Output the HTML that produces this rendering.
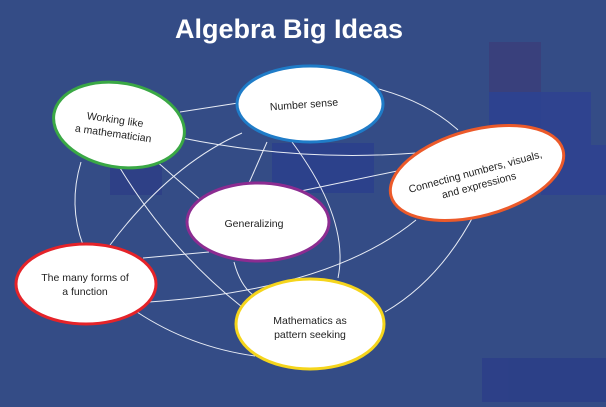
<!DOCTYPE html>
<html><head><style>
body{margin:0;width:606px;height:402px;overflow:hidden;background:#344c86;font-family:"Liberation Sans",sans-serif}
</style></head><body>
<svg width="606" height="402" viewBox="0 0 606 402" xmlns="http://www.w3.org/2000/svg">
<rect width="606" height="402" fill="#344c86"/>
<g opacity="0.9">
<rect x="489" y="42" width="52" height="50" fill="#3a3f7c"/>
<rect x="489" y="92" width="52" height="53" fill="#2d4190"/>
<rect x="541" y="92" width="50" height="53" fill="#2f4390"/>
<rect x="541" y="145" width="65" height="50" fill="#2f4390"/>
<rect x="272" y="143" width="52" height="50" fill="#2c408c"/>
<rect x="324" y="143" width="50" height="50" fill="#2c408c"/>
<rect x="110" y="160" width="52" height="35" fill="#2d3f86"/>
<rect x="482" y="358" width="52" height="44" fill="#2c3f88"/>
<rect x="534" y="358" width="50" height="44" fill="#2c3f88"/>
<rect x="584" y="358" width="22" height="44" fill="#2c3f88"/>
</g>
<text x="289" y="38" text-anchor="middle" font-family="Liberation Sans,sans-serif" font-size="27" font-weight="bold" fill="#fff">Algebra Big Ideas</text>
<g fill="none" stroke="#e8ecf5" stroke-width="1">
<path d="M180 112 L238 103"/>
<path d="M182 138 Q300 162 416 153"/>
<path d="M81 162 Q68 205 83 245"/>
<path d="M155 160 L203 202"/>
<path d="M120 168 Q170 250 242 307"/>
<path d="M242 133 Q170 165 110 245"/>
<path d="M267 142 L249 183"/>
<path d="M292 142 Q350 220 338 278"/>
<path d="M371 87 Q425 100 458 130"/>
<path d="M296 192 L402 170"/>
<path d="M143 258 L209 252"/>
<path d="M149 302 Q330 290 416 220"/>
<path d="M137 312 Q190 347 255 356"/>
<path d="M234 262 Q240 285 253 295"/>
<path d="M475 213 Q440 280 385 312"/>
</g>
<g stroke-width="3" fill="#fff">
<ellipse cx="119" cy="125" rx="66" ry="42" transform="rotate(10 119 125)" stroke="#3aa845"/>
<ellipse cx="310" cy="104" rx="73" ry="38" stroke="#1f7cc8"/>
<ellipse cx="477" cy="173" rx="89" ry="43" transform="rotate(-15 477 173)" stroke="#ec5a2a"/>
<ellipse cx="258" cy="222" rx="71" ry="39" stroke="#8c2c91"/>
<ellipse cx="86" cy="284" rx="70" ry="40" stroke="#e52329"/>
<ellipse cx="310" cy="324" rx="74" ry="45" stroke="#f5d51c"/>
</g>
<g font-family="Liberation Sans,sans-serif" font-size="10.5" fill="#222" text-anchor="middle">
<text transform="rotate(8 114 128)"><tspan x="114" y="123">Working like</tspan><tspan x="114" y="137">a mathematician</tspan></text>
<text x="304" y="108" transform="rotate(-4 304 105)">Number sense</text>
<text transform="rotate(-15 477 178)"><tspan x="477" y="175">Connecting numbers, visuals,</tspan><tspan x="477" y="189">and expressions</tspan></text>
<text x="254" y="227">Generalizing</text>
<text><tspan x="85" y="281">The many forms of</tspan><tspan x="85" y="295">a function</tspan></text>
<text><tspan x="310" y="324">Mathematics as</tspan><tspan x="310" y="338">pattern seeking</tspan></text>
</g>
</svg>
</body></html>
